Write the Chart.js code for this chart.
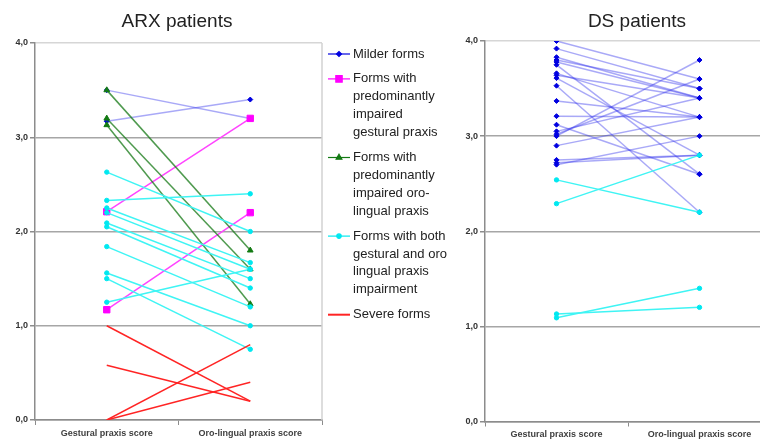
<!DOCTYPE html>
<html>
<head>
<meta charset="utf-8">
<script src="https://cdn.jsdelivr.net/npm/chart.js@4"></script>
<style>
  html, body { margin: 0; padding: 0; background: #fff; }
  body { width: 760px; height: 446px; overflow: hidden; position: relative; }
  .panel { position: absolute; top: 0; height: 446px; }
  #arxBox { left: 0; width: 450px; }
  #dsBox { left: 440px; width: 340px; }
</style>
</head>
<body>
<div class="panel" id="arxBox"><canvas id="arxChart"></canvas></div>
<div class="panel" id="dsBox"><canvas id="dsChart"></canvas></div>
<script>
/* ---------- data ---------- */
const categories = ['Gestural praxis score', 'Oro-lingual praxis score'];
const yTickLabels = ['0,0', '1,0', '2,0', '3,0', '4,0'];

// ARX patients: one value per patient, gestural -> oro-lingual
const arxMilderGestural = [3.5, 3.17];
const arxMilderOro = [3.2, 3.4];
const arxGesturalImpGestural = [2.21, 1.17];
const arxGesturalImpOro = [3.2, 2.2];
const arxOroImpGestural = [3.5, 3.2, 3.13];
const arxOroImpOro = [1.8, 1.6, 1.23];
const arxBothGestural = [2.63, 2.33, 2.25, 2.2, 2.09, 2.05, 1.84, 1.56, 1.5, 1.25];
const arxBothOro = [2.0, 2.4, 1.67, 1.6, 1.5, 1.4, 1.2, 1.0, 0.75, 1.6];
const arxSevereGestural = [1.0, 0.58, 0.0, 0.0];
const arxSevereOro = [0.2, 0.2, 0.8, 0.4];

// DS patients
const dsMilderGestural = [4.0, 3.92, 3.83, 3.8, 3.78, 3.75, 3.66, 3.64, 3.61, 3.53,
                          3.37, 3.21, 3.12, 3.05, 3.02, 3.0, 2.9, 2.75, 2.72, 2.7];
const dsMilderOro = [3.6, 3.5, 3.4, 3.5, 3.4, 2.6, 3.2, 3.4, 2.8, 2.2,
                     3.2, 3.2, 2.6, 3.4, 3.6, 3.8, 3.2, 2.8, 2.8, 3.0];
const dsBothGestural = [2.54, 2.29, 1.13, 1.09];
const dsBothOro = [2.2, 2.8, 1.2, 1.4];

const legendLabels = [
    ['Milder forms'],
    ['Forms with', 'predominantly', 'impaired', 'gestural praxis'],
    ['Forms with', 'predominantly', 'impaired oro-', 'lingual praxis'],
    ['Forms with both', 'gestural and oro', 'lingual praxis', 'impairment'],
    ['Severe forms']
];

/* ---------- styles ---------- */
const styles = {
    milder:  { line: 'rgba(50,50,235,0.42)', point: '#0000e0', shape: 'rectRot', r: 2.5 },
    gestImp: { line: '#ff44ff', point: '#ff00ff', shape: 'rect', r: 4.5 },
    oroImp:  { line: 'rgba(20,120,20,0.75)', point: '#137a13', shape: 'triangle', r: 3.3 },
    both:    { line: '#3ff4f4', point: '#00e8f0', shape: 'circle', r: 2.2 },
    severe:  { line: '#ff2424', point: '#ff2424', shape: false, r: 0 }
};
const legendOrder = ['milder', 'gestImp', 'oroImp', 'both', 'severe'];
const FONT = 'Liberation Sans, Arial, sans-serif';

function pairs(gest, oro, st) {
    return gest.map((g, i) => ({
        data: [g, oro[i]],
        borderColor: st.line,
        borderWidth: 1.5,
        pointStyle: st.shape,
        pointRadius: st.r,
        pointBackgroundColor: st.point,
        pointBorderColor: st.point,
        pointBorderWidth: 1,
        fill: false,
        tension: 0
    }));
}

/* ---------- plugins ---------- */
const panelDecor = {
    id: 'panelDecor',
    afterDraw(chart, args, opts) {
        const { ctx, chartArea: a } = chart;
        ctx.save();
        // plot border on the right
        ctx.strokeStyle = '#d2d2d2';
        ctx.lineWidth = 1.5;
        ctx.beginPath();
        ctx.moveTo(a.right, a.top);
        ctx.lineTo(a.right, a.bottom);
        ctx.stroke();
        // title
        ctx.fillStyle = '#222';
        ctx.font = '19px ' + FONT;
        ctx.textAlign = 'center';
        ctx.textBaseline = 'alphabetic';
        ctx.fillText(opts.text, opts.cx, 27);

        // legend
        if (opts.legend) {
            ctx.font = '13px ' + FONT;
            ctx.textAlign = 'left';
            ctx.textBaseline = 'middle';
            let y = 54;
            legendOrder.forEach((key, idx) => {
                const st = styles[key];
                const x0 = a.right + 6;
                ctx.strokeStyle = key === 'severe' ? st.line : st.point;
                ctx.lineWidth = key === 'severe' ? 2 : 1.2;
                ctx.beginPath();
                ctx.moveTo(x0, y);
                ctx.lineTo(x0 + 22, y);
                ctx.stroke();
                if (st.shape) {
                    ctx.fillStyle = st.point;
                    ctx.strokeStyle = st.point;
                    Chart.helpers.drawPoint(ctx, {
                        pointStyle: st.shape, radius: st.r, rotation: 0, borderWidth: 1
                    }, x0 + 11, y);
                }
                ctx.fillStyle = '#222';
                legendLabels[idx].forEach((t, j) => ctx.fillText(t, x0 + 25, y + j * 17.9));
                y += legendLabels[idx].length * 17.9 + 7;
            });
        }
        ctx.restore();
    }
};

function makeOptions(yWidth, padTop, xHeight, padRight, decor) {
    return {
        responsive: true,
        maintainAspectRatio: false,
        animation: false,
        layout: { padding: { top: padTop, right: padRight, left: 0, bottom: 0 } },
        plugins: {
            legend: { display: false },
            tooltip: { enabled: false },
            panelDecor: decor
        },
        scales: {
            x: {
                type: 'category',
                offset: true,
                afterFit: s => { s.height = xHeight; },
                grid: { offset: true, drawOnChartArea: false, tickLength: 5, color: '#8c8c8c' },
                border: { color: '#8c8c8c', width: 1.5 },
                ticks: { color: '#404040', font: { family: FONT, size: 9, weight: 'bold' }, padding: 3, maxRotation: 0 }
            },
            y: {
                min: 0,
                max: 4,
                afterFit: s => { s.width = yWidth; },
                grid: {
                    color: c => (c.tick && c.tick.value === 4) ? '#d6d6d6' : '#a6a6a6',
                    lineWidth: 1.5,
                    tickLength: 5,
                    tickColor: '#8c8c8c'
                },
                border: { color: '#8c8c8c', width: 1.5 },
                ticks: {
                    stepSize: 1,
                    padding: 2,
                    color: '#333',
                    font: { family: FONT, size: 9, weight: 'bold' },
                    callback: v => yTickLabels[Math.round(v)]
                }
            }
        }
    };
}

/* ---------- charts ---------- */
new Chart(document.getElementById('arxChart'), {
    type: 'line',
    data: {
        labels: categories,
        datasets: [
            ...pairs(arxSevereGestural, arxSevereOro, styles.severe),
            ...pairs(arxBothGestural, arxBothOro, styles.both),
            ...pairs(arxOroImpGestural, arxOroImpOro, styles.oroImp),
            ...pairs(arxGesturalImpGestural, arxGesturalImpOro, styles.gestImp),
            ...pairs(arxMilderGestural, arxMilderOro, styles.milder)
        ]
    },
    options: makeOptions(35, 43, 26, 128, { text: 'ARX patients', cx: 177, legend: true }),
    plugins: [panelDecor]
});

new Chart(document.getElementById('dsChart'), {
    type: 'line',
    data: {
        labels: categories,
        datasets: [
            ...pairs(dsBothGestural, dsBothOro, styles.both),
            ...pairs(dsMilderGestural, dsMilderOro, styles.milder)
        ]
    },
    options: makeOptions(45, 41, 24.5, 9, { text: 'DS patients', cx: 197, legend: false }),
    plugins: [panelDecor]
});
</script>
</body>
</html>
